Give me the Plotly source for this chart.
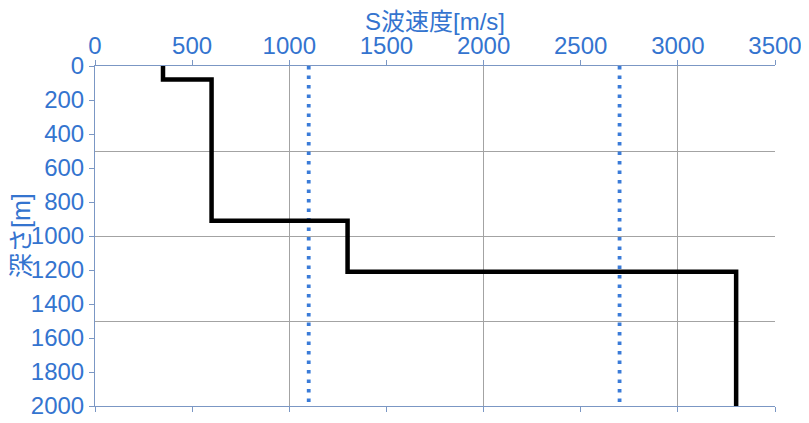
import plotly.graph_objects as go

# Step profile of S-wave velocity vs depth
layer_velocity = [350, 600, 1300, 3300]      # m/s
layer_top = [0, 80, 910, 1210]               # m
layer_bottom = [80, 910, 1210, 2000]         # m
ref_velocities = [1100, 2700]                # dotted reference lines
depth_range = [0, 2000]

x_tick_vals = [0, 500, 1000, 1500, 2000, 2500, 3000, 3500]
y_tick_vals = [0, 200, 400, 600, 800, 1000, 1200, 1400, 1600, 1800, 2000]
x_grid_vals = [1000, 2000, 3000]
y_grid_vals = [500, 1000, 1500]

xs, ys = [], []
for v, t, b in zip(layer_velocity, layer_top, layer_bottom):
    xs += [v, v]
    ys += [t, b]

blue = "#3474cf"
axis_col = "#7b97c4"
grid_col = "#a3a3a3"
font_fam = "Liberation Sans, Noto Sans CJK JP, sans-serif"

fig = go.Figure()
fig.add_trace(go.Scatter(x=[0], y=[0], xaxis="x2", yaxis="y2", mode="markers",
                         marker=dict(opacity=0), showlegend=False, hoverinfo="skip"))
for rv in ref_velocities:
    fig.add_trace(go.Scatter(x=[rv, rv], y=depth_range, mode="lines",
                             line=dict(color="#3a7bd8", width=3.8, dash="3.5px,6px"),
                             showlegend=False))
fig.add_trace(go.Scatter(x=xs, y=ys, mode="lines",
                         line=dict(color="black", width=4.5),
                         showlegend=False))

PH = 340  # plot-area height in px, for title placement
fig.update_layout(
    width=801, height=415,
    margin=dict(l=87, r=34, t=58, b=17),
    plot_bgcolor="white", paper_bgcolor="white",
    font=dict(family=font_fam, color=blue, size=24),
    xaxis=dict(side="top", range=[0, 3500], tickvals=x_tick_vals, automargin=False,
               showgrid=False, zeroline=False, showline=True, linecolor=axis_col,
               linewidth=1, ticks="outside", ticklen=5, tickcolor=axis_col,
               mirror="ticks", ticklabelstandoff=-4,
               tickfont=dict(size=24, color=blue)),
    yaxis=dict(range=[2000, 0], tickvals=y_tick_vals, showgrid=False, zeroline=False,
               automargin=False,
               showline=True, linecolor=axis_col, linewidth=1, ticks="outside",
               ticklen=5, tickcolor=axis_col, tickfont=dict(size=24, color=blue)),
    xaxis2=dict(overlaying="x", range=[0, 3500], tickvals=x_grid_vals,
                showgrid=True, gridcolor=grid_col, gridwidth=1, showticklabels=False,
                ticks="", zeroline=False, showline=False),
    yaxis2=dict(overlaying="y", range=[2000, 0], tickvals=y_grid_vals,
                showgrid=True, gridcolor=grid_col, gridwidth=1, showticklabels=False,
                ticks="", zeroline=False, showline=False),
    annotations=[
        dict(text="S波速度[m/s]", xref="paper", yref="paper",
             x=0.5, y=1 + 45 / PH, xanchor="center", yanchor="middle",
             showarrow=False, font=dict(size=24, color=blue)),
        dict(text="深さ[m]", textangle=-90, xref="paper", yref="paper",
             x=(21 - 95) / 680, y=0.5, xanchor="center", yanchor="middle",
             showarrow=False, font=dict(size=25, color=blue)),
    ],
)

fig.write_html("out.html")
